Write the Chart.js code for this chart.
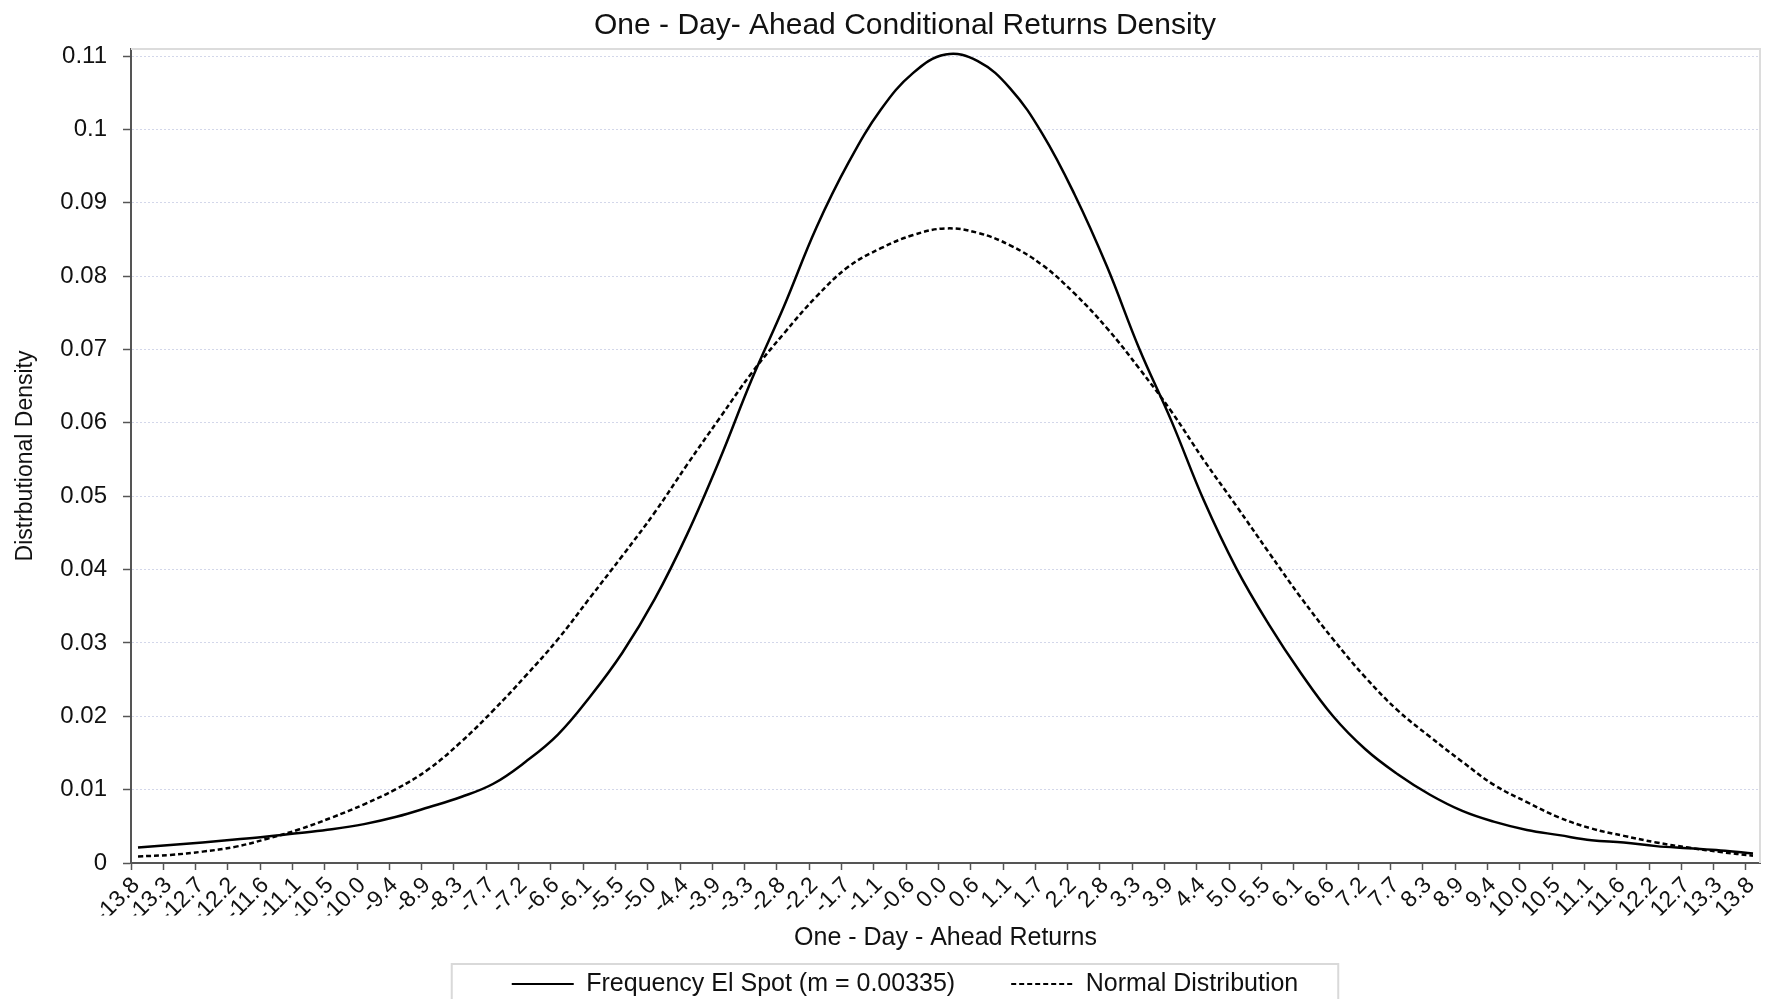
<!DOCTYPE html>
<html>
<head>
<meta charset="utf-8">
<title>One - Day- Ahead Conditional Returns Density</title>
<script src="https://cdn.jsdelivr.net/npm/chart.js@4.4.1/dist/chart.umd.min.js"></script>
<style>
  html, body { margin: 0; padding: 0; background: #fff; }
  canvas { display: block; }
</style>
</head>
<body>
<canvas id="densityChart" width="1769" height="999"></canvas>
<script>
// Return grid, as labelled under the x axis
const categories = [
  "-13.8", "-13.3", "-12.7", "-12.2", "-11.6", "-11.1", "-10.5", "-10.0", "-9.4", "-8.9",
  "-8.3", "-7.7", "-7.2", "-6.6", "-6.1", "-5.5", "-5.0", "-4.4", "-3.9", "-3.3",
  "-2.8", "-2.2", "-1.7", "-1.1", "-0.6", "0.0", "0.6", "1.1", "1.7", "2.2",
  "2.8", "3.3", "3.9", "4.4", "5.0", "5.5", "6.1", "6.6", "7.2", "7.7",
  "8.3", "8.9", "9.4", "10.0", "10.5", "11.1", "11.6", "12.2", "12.7", "13.3", "13.8"
];

// Frequency El Spot density
const frequencyDensity = [
  0.0021, 0.00245, 0.0028, 0.0032, 0.0036, 0.0041, 0.0046, 0.0053, 0.0063, 0.0076,
  0.0090, 0.0108, 0.0138, 0.0175, 0.0227, 0.0287, 0.0360, 0.0448, 0.0549, 0.0659,
  0.0759, 0.0866, 0.0955, 0.1027, 0.1077, 0.1102, 0.1093, 0.1056, 0.0994, 0.0911,
  0.0813, 0.0701, 0.0602, 0.0494, 0.0402, 0.0326, 0.0259, 0.0200, 0.0155, 0.0121,
  0.0093, 0.0071, 0.0056, 0.0045, 0.0038, 0.0031, 0.0028, 0.0023, 0.0020, 0.0017, 0.0013
];

// Normal distribution density
const normalDensity = [
  0.0009, 0.0011, 0.00155, 0.0022, 0.0033, 0.0046, 0.0062, 0.0080, 0.0101, 0.0128,
  0.0165, 0.0208, 0.0255, 0.0305, 0.0362, 0.0419, 0.0478, 0.0543, 0.0606, 0.0668,
  0.0722, 0.0772, 0.0813, 0.0838, 0.0856, 0.0865, 0.0859, 0.0842, 0.0815, 0.0776,
  0.0729, 0.0674, 0.0615, 0.0549, 0.0487, 0.0424, 0.0362, 0.0305, 0.0253, 0.0208,
  0.0172, 0.0138, 0.0106, 0.0083, 0.0062, 0.0047, 0.0037, 0.0028, 0.0021, 0.0015, 0.0010
];

// y axis ticks
const yTicks = [0, 0.01, 0.02, 0.03, 0.04, 0.05, 0.06, 0.07, 0.08, 0.09, 0.1, 0.11];
const yTickLabels = ["0", "0.01", "0.02", "0.03", "0.04", "0.05", "0.06", "0.07", "0.08", "0.09", "0.1", "0.11"];

Chart.defaults.font.family = '"Liberation Sans", Arial, sans-serif';
Chart.defaults.color = '#111';

// tick marks sit a bit left of the points they label
const tickShift = -0.217;

// light frame on top and right of the plot
const frameLines = {
  id: 'frameLines',
  beforeDatasetsDraw(chart) {
    const { ctx, chartArea: a } = chart;
    ctx.save();
    ctx.strokeStyle = '#dcdcdc';
    ctx.lineWidth = 2;
    ctx.beginPath();
    ctx.moveTo(a.left, a.top);
    ctx.lineTo(a.right, a.top);
    ctx.lineTo(a.right, a.bottom);
    ctx.stroke();
    ctx.restore();
  }
};

// box round the legend
const legendBox = {
  id: 'legendBox',
  afterDraw(chart) {
    const boxes = chart.legend.legendHitBoxes;
    if (!boxes || !boxes.length) return;
    const first = boxes[0];
    const last = boxes[boxes.length - 1];
    const midY = first.top + first.height / 2;
    const left = first.left - 60;
    const right = last.left + last.width + 40;
    const ctx = chart.ctx;
    ctx.save();
    ctx.strokeStyle = '#d9d9d9';
    ctx.lineWidth = 2;
    ctx.strokeRect(left, midY - 20, right - left, 60);
    ctx.restore();
  }
};

new Chart(document.getElementById('densityChart'), {
  type: 'line',
  data: {
    datasets: [
      {
        label: 'Frequency El Spot (m = 0.00335)',
        data: frequencyDensity.map((y, i) => ({ x: i, y: y })),
        borderColor: '#000',
        borderWidth: 2.5,
        pointRadius: 0,
        tension: 0.4
      },
      {
        label: 'Normal Distribution',
        data: normalDensity.map((y, i) => ({ x: i, y: y })),
        borderColor: '#000',
        borderWidth: 2.5,
        borderDash: [5, 3],
        pointRadius: 0,
        tension: 0.4
      }
    ]
  },
  options: {
    responsive: false,
    animation: false,
    layout: { padding: { left: 50, right: 9, top: 0, bottom: -7.5 } },
    plugins: {
      title: {
        display: true,
        text: 'One - Day- Ahead Conditional Returns Density',
        font: { size: 30, weight: 'normal' },
        color: '#111',
        padding: { top: 7.6, bottom: 5.4 }
      },
      legend: {
        position: 'bottom',
        labels: {
          usePointStyle: true,
          pointStyle: 'line',
          pointStyleWidth: 62,
          font: { size: 25 },
          color: '#111',
          padding: 56,
          generateLabels: chart =>
            Chart.defaults.plugins.legend.labels.generateLabels(chart).map((item, i) => ({
              ...item,
              lineDash: chart.data.datasets[i].borderDash || [],
              lineWidth: 2,
              strokeStyle: '#000'
            }))
        }
      },
      tooltip: { enabled: false }
    },
    scales: {
      x: {
        type: 'linear',
        min: -0.217,
        max: 50.217,
        afterBuildTicks: s => { s.ticks = categories.map((c, i) => ({ value: i + tickShift })); },
        afterFit: s => { s.height = 52.5; },
        ticks: {
          autoSkip: false,
          minRotation: 45,
          maxRotation: 45,
          labelOffset: 5,
          padding: 2,
          font: { size: 23 },
          color: '#111',
          callback: (v, i) => categories[i]
        },
        grid: { drawOnChartArea: false, drawTicks: true, tickLength: 7, tickColor: '#555', tickWidth: 1.5 },
        border: { color: '#555', width: 2 },
        title: {
          display: true,
          text: 'One - Day - Ahead Returns',
          font: { size: 25 },
          color: '#111',
          padding: { top: 0, bottom: -37.5 }
        }
      },
      y: {
        min: 0,
        max: 0.11096,
        afterBuildTicks: s => { s.ticks = yTicks.map(v => ({ value: v })); },
        afterFit: s => { s.width = 81; },
        ticks: {
          padding: 16,
          font: { size: 24 },
          color: '#111',
          callback: (v, i) => yTickLabels[i]
        },
        grid: {
          color: c => (c.tick && c.tick.value === 0 ? 'transparent' : '#d3d7ea'),
          lineWidth: 1,
          tickLength: 8,
          tickColor: '#555',
          tickWidth: 1.5
        },
        border: { color: '#555', width: 2, dash: [2, 2] },
        title: {
          display: true,
          text: 'Distrbutional Density',
          font: { size: 23 },
          color: '#111',
          padding: { top: -38, bottom: 0 }
        }
      }
    }
  },
  plugins: [frameLines, legendBox]
});
</script>
</body>
</html>
